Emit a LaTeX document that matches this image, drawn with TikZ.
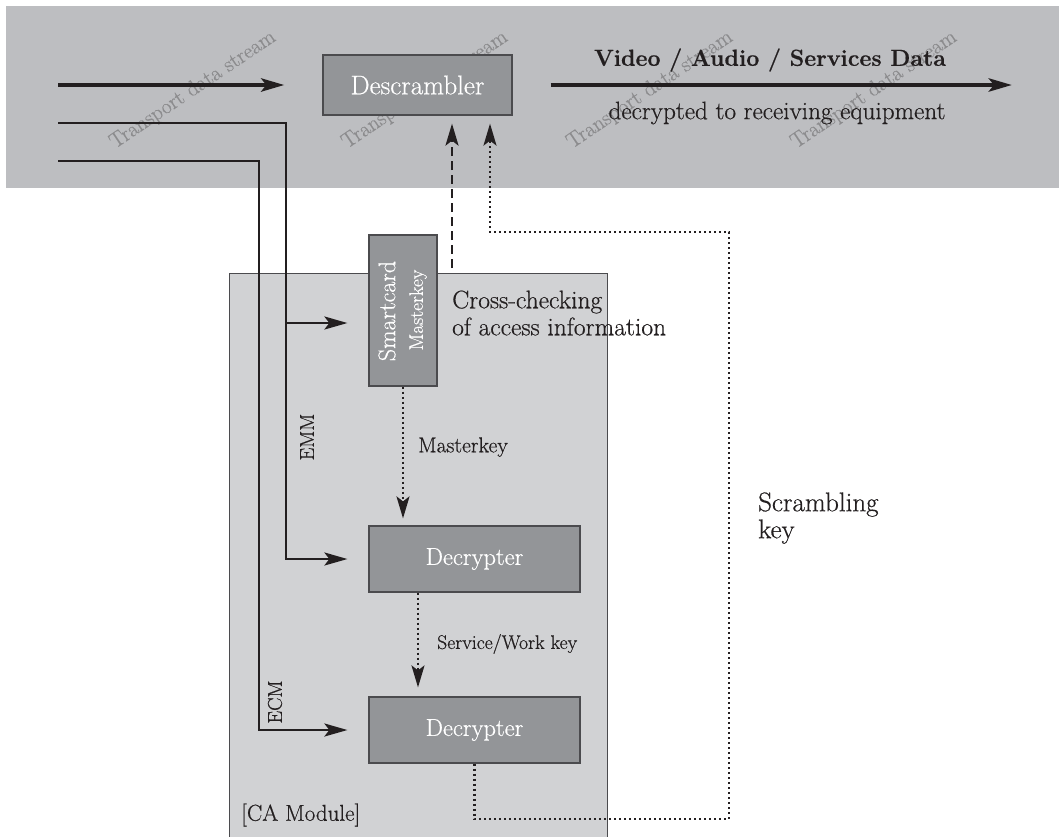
\documentclass[tikz,border=0pt]{standalone}
\usepackage{fontspec}
\setmainfont{Latin Modern Roman}[FakeBold=0.5]
\usetikzlibrary{arrows.meta,calc}
\definecolor{bandgray}{RGB}{189,190,193}
\definecolor{modgray}{RGB}{209,210,212}
\definecolor{boxgray}{RGB}{147,149,152}
\definecolor{edgegray}{RGB}{75,75,78}
\definecolor{ink}{RGB}{35,31,32}
\definecolor{wmark}{RGB}{140,140,142}
\begin{document}
\begin{tikzpicture}[x=1pt,y=-1pt,
  darkbox/.style={draw=edgegray, line width=1.2pt, fill=boxgray, text=white, inner sep=0pt},
  modbox/.style={draw=edgegray, line width=1pt, fill=modgray, inner sep=0pt},
  lbl/.style={inner sep=0pt, text=ink},
  wm/.style={inner sep=0pt, text=wmark, rotate=34, font=\fontsize{21.5}{25}\selectfont},
  thickarrow/.style={draw=ink, line width=4.5pt, -{Stealth[length=23pt,width=13pt,inset=5pt]}},
  thinarrow/.style={draw=ink, line width=2.6pt, -{Stealth[length=23pt,width=13pt,inset=5pt]}},
  dotarrow/.style={draw=ink, line width=2.2pt, dash pattern=on 2.2pt off 2.8pt, -{Stealth[length=22pt,width=13pt,inset=5pt]}},
  dasharrow/.style={draw=ink, line width=2.6pt, dash pattern=on 9pt off 5pt, -{Stealth[length=22pt,width=13pt,inset=5pt]}}
]
\useasboundingbox (0,0) rectangle (1059,836);
\fill[white] (0,0) rectangle (1059,836);
% top band
\fill[bandgray] (6,6) rectangle (1059,188);
\foreach \x [count=\i] in {193,425,650,874}
  \node[wm] (wm\i) at (\x,90) {Transport data stream};
% CA module
\node[modbox, minimum width=378pt, minimum height=590pt, anchor=north west] (ca) at (229,273) {};
% boxes
\node[darkbox, minimum width=189pt, minimum height=60pt, font=\fontsize{27}{31}\selectfont] (desc) at (417.5,85) {Descrambler};
\node[darkbox, minimum width=68pt, minimum height=151pt] (smart) at (403,310.5) {};
\node[inner sep=0pt, text=white, rotate=90, font=\fontsize{24}{28}\selectfont] (smartlbl) at (387,311) {Smartcard};
\node[inner sep=0pt, text=white, rotate=90, font=\fontsize{19.5}{23}\selectfont] (mklbl) at (418,310) {Masterkey};
\node[darkbox, minimum width=211pt, minimum height=66pt, font=\fontsize{24.5}{28}\selectfont] (dec1) at (474.5,559) {Decrypter};
\node[darkbox, minimum width=211pt, minimum height=66pt, font=\fontsize{24.5}{28}\selectfont] (dec2) at (474.5,730) {Decrypter};
% transport stream arrows
\coordinate (in1) at (58,85);
\coordinate (out) at (1012,85);
\draw[thickarrow, shorten >=38pt] (in1) -- (desc.west);
\draw[thickarrow, shorten <=38pt] (desc.east) -- (out);
\coordinate (in2) at (58,123);
\coordinate (emmc) at (286,559);
\coordinate (emmb) at (286,323);
\draw[thinarrow, shorten >=21pt] (in2) -| (emmc) -- (dec1.west);
\draw[thinarrow, shorten >=21pt] (emmb) -- (smart.west |- emmb);
\coordinate (in3) at (58,161);
\coordinate (ecmc) at (259,730);
\draw[thinarrow, shorten >=21pt] (in3) -| (ecmc) -- (dec2.west);
% key arrows
\draw[dotarrow, shorten >=7pt] (smart.south) -- (smart.south |- dec1.north);
\draw[dotarrow, shorten >=9pt] ([xshift=-56.5pt]dec1.south) -- ([xshift=-56.5pt]dec2.north);
\coordinate (sk1) at (474.5,819);
\coordinate (sk2) at (729,819);
\coordinate (sk3) at (729,232);
\coordinate (sk4) at (490,232);
\draw[dotarrow, shorten >=8pt] (dec2.south) -- (sk1) -- (sk2) -- (sk3) -- (sk4) -- (desc.south -| sk4);
\coordinate (cc) at (452,268);
\draw[dasharrow, shorten >=8pt] (cc) -- (desc.south -| cc);
% labels
\node[lbl, font=\bfseries\fontsize{23.2}{27}\selectfont] (vad) at (770,60) {Video / Audio / Services Data};
\node[lbl, font=\fontsize{25.2}{29}\selectfont] (decr) at (777,113) {decrypted to receiving equipment};
\node[lbl, anchor=west, align=left, font=\fontsize{25.5}{27}\selectfont] (cross) at (452,313) {Cross-checking\\of access information};
\node[lbl, anchor=west, align=left, font=\fontsize{27}{27}\selectfont] (scr) at (758,518) {Scrambling\\key};
\node[lbl, anchor=west, font=\fontsize{23}{27}\selectfont] (calbl) at (241,815) {[CA Module]};
\node[lbl, rotate=90, font=\fontsize{20}{24}\selectfont] (emm) at (307,437) {EMM};
\node[lbl, rotate=90, font=\fontsize{20}{24}\selectfont] (ecm) at (275,702) {ECM};
\node[lbl, anchor=west, font=\fontsize{21.7}{25}\selectfont] (mk) at (418,447) {Masterkey};
\node[lbl, anchor=west, font=\fontsize{19.7}{23}\selectfont] (swk) at (437,644) {Service/Work key};
\end{tikzpicture}
\end{document}
